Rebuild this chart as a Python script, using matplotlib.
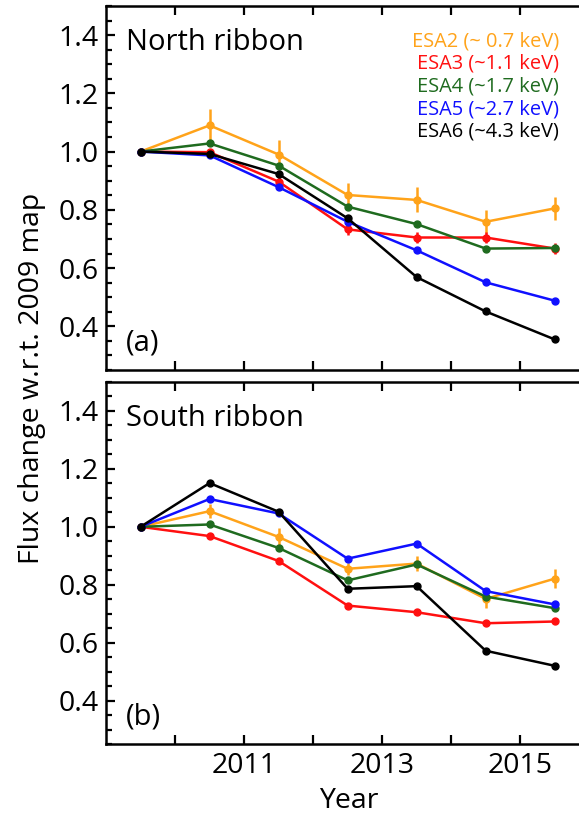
import matplotlib
matplotlib.use("Agg")
import matplotlib.pyplot as plt
from matplotlib.ticker import MultipleLocator, FixedLocator, FuncFormatter

plt.rcParams['font.family'] = ['Open Sans', 'DejaVu Sans']

years = [2009.5, 2010.5, 2011.5, 2012.5, 2013.5, 2014.5, 2015.5]
labels = ['ESA2 (~ 0.7 keV)', 'ESA3 (~1.1 keV)', 'ESA4 (~1.7 keV)',
          'ESA5 (~2.7 keV)', 'ESA6 (~4.3 keV)']
colors = ['#FFA31A', '#FF1010', '#1F6B1F', '#1010FF', '#000000']

# North ribbon, panel (a)
north_esa2 = [1.0, 1.09, 0.99, 0.851, 0.834, 0.759, 0.805]
north_esa3 = [1.0, 0.998, 0.897, 0.733, 0.705, 0.705, 0.667]
north_esa4 = [1.0, 1.028, 0.952, 0.811, 0.751, 0.667, 0.669]
north_esa5 = [1.0, 0.987, 0.878, 0.759, 0.661, 0.551, 0.488]
north_esa6 = [1.0, 0.992, 0.923, 0.771, 0.569, 0.451, 0.355]
north_err2 = [0.0, 0.055, 0.05, 0.04, 0.043, 0.04, 0.04]
north_err3 = [0.0, 0.01, 0.015, 0.018, 0.018, 0.018, 0.018]
north_small = [0.0, 0.005, 0.005, 0.005, 0.005, 0.005, 0.005]

# South ribbon, panel (b)
south_esa2 = [1.0, 1.054, 0.965, 0.855, 0.873, 0.751, 0.821]
south_esa3 = [1.0, 0.968, 0.882, 0.728, 0.705, 0.667, 0.673]
south_esa4 = [1.0, 1.008, 0.927, 0.815, 0.87, 0.759, 0.719]
south_esa5 = [1.0, 1.096, 1.046, 0.89, 0.942, 0.778, 0.732]
south_esa6 = [1.0, 1.151, 1.052, 0.786, 0.795, 0.572, 0.52]
south_err2 = [0.0, 0.025, 0.03, 0.02, 0.025, 0.03, 0.033]
south_err3 = [0.0, 0.01, 0.01, 0.008, 0.008, 0.008, 0.008]
south_small = [0.0, 0.01, 0.01, 0.008, 0.008, 0.008, 0.008]

north = [north_esa2, north_esa3, north_esa4, north_esa5, north_esa6]
north_err = [north_err2, north_err3, north_small, north_small, north_small]
south = [south_esa2, south_esa3, south_esa4, south_esa5, south_esa6]
south_err = [south_err2, south_err3, south_small, south_small, south_small]

W, H = 579, 816
fig = plt.figure(figsize=(W / 100, H / 100), dpi=100)
ax_a = fig.add_axes([106 / W, (H - 370) / H, 486 / W, 364 / H])
ax_b = fig.add_axes([106 / W, (H - 744) / H, 486 / W, 362 / H])


def style(ax, show_xlabels):
    ax.set_xlim(2009, 2016.04)
    ax.set_ylim(0.25, 1.5)
    ax.xaxis.set_major_locator(FixedLocator([2010, 2011, 2012, 2013, 2014, 2015]))
    ax.xaxis.set_major_formatter(FuncFormatter(
        lambda v, p: str(int(v)) if show_xlabels and int(round(v)) % 2 == 1 else ''))
    ax.yaxis.set_major_locator(MultipleLocator(0.2))
    ax.yaxis.set_minor_locator(MultipleLocator(0.05))
    ax.yaxis.set_major_formatter(FuncFormatter(lambda v, p: '%.1f' % v))
    ax.tick_params(which='both', direction='in', top=True, right=True,
                   width=1.6, labelsize=20.5)
    ax.tick_params(which='major', length=6.5)
    ax.tick_params(which='minor', length=4)
    ax.tick_params(axis='x', pad=6)
    ax.tick_params(axis='y', pad=5)
    for s in ax.spines.values():
        s.set_linewidth(1.8)


for ax, data, errs in [(ax_a, north, north_err), (ax_b, south, south_err)]:
    for vals, err, c in zip(data, errs, colors):
        ax.errorbar(years, vals, yerr=err, fmt='-o', color=c, lw=1.8,
                    ms=5, elinewidth=1.8, capsize=0)

style(ax_a, False)
style(ax_b, True)

ax_a.text(0.041, 0.94, 'North ribbon', transform=ax_a.transAxes,
          fontsize=21, va='top', ha='left')
ax_b.text(0.041, 0.94, 'South ribbon', transform=ax_b.transAxes,
          fontsize=21, va='top', ha='left')
ax_a.text(0.041, 0.035, '(a)', transform=ax_a.transAxes,
          fontsize=21, va='bottom', ha='left')
ax_b.text(0.041, 0.035, '(b)', transform=ax_b.transAxes,
          fontsize=21, va='bottom', ha='left')

for i, (lab, c) in enumerate(zip(labels, colors)):
    ypx = 41 + i * 22.7
    ax_a.text(559 / 486 - 106 / 486, 1 - (ypx - 6) / 364, lab, transform=ax_a.transAxes,
              color=c, fontsize=14.4, ha='right', va='center')

ax_b.set_xlabel('Year', fontsize=20.5, labelpad=5)
fig.text(32 / W, 1 - 378 / H, 'Flux change w.r.t. 2009 map', rotation=90,
         fontsize=20.5, ha='center', va='center')

fig.savefig('out.png', dpi=100)
